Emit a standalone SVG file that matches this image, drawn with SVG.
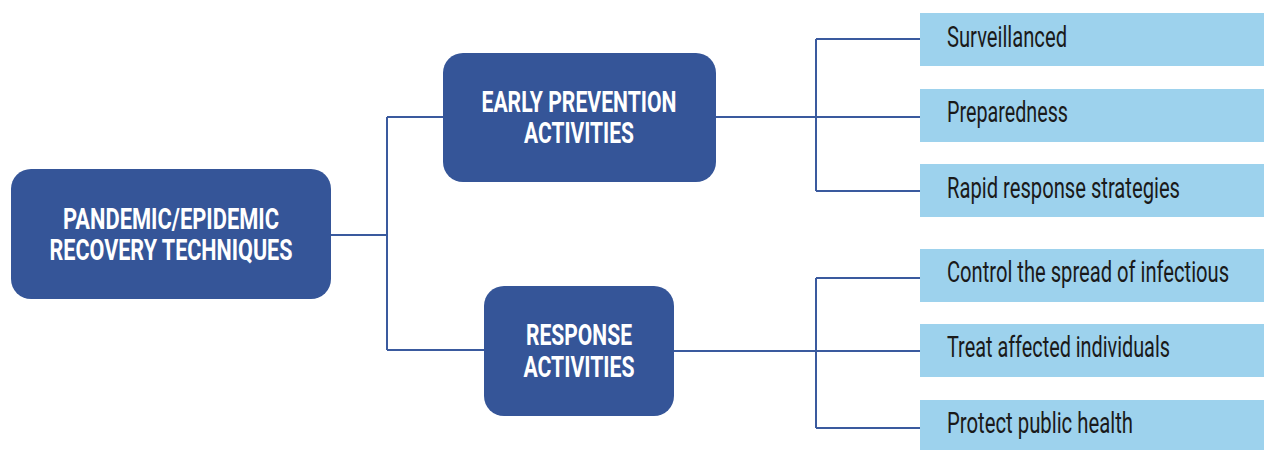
<svg xmlns="http://www.w3.org/2000/svg" width="1264" height="450" viewBox="0 0 1264 450">
  <style>
    .hub { fill: #355598; }
    .hub-label { font-family: Roboto, "Liberation Sans", sans-serif; font-weight: 700; font-size: 29px; fill: #ffffff; text-anchor: middle; }
    .leaf { fill: #9dd2ed; }
    .leaf-label { font-family: Roboto, "Liberation Sans", sans-serif; font-weight: 400; font-size: 29px; fill: #1a1a1a; }
    .wire { fill: none; stroke: #3a5a9e; stroke-width: 2; }
  </style>
  <rect width="1264" height="450" fill="#ffffff"/>

  <!-- tree connectors -->
  <g id="connectors" class="wire">
    <path d="M331 235 H387 M387 117 V350 M387 117 H443 M387 350 H484"/>
    <path d="M716 117 H920 M816 39 V191 M816 39 H920 M816 191 H920"/>
    <path d="M674 351 H920 M816 278 V428 M816 278 H920 M816 428 H920"/>
  </g>

  <!-- root (labels drawn condensed) -->
  <g id="node-root">
    <rect class="hub" x="11" y="169" width="320" height="130" rx="20"/>
    <text class="hub-label" transform="translate(171 229) scale(0.7 1)" textLength="308.6" lengthAdjust="spacingAndGlyphs">PANDEMIC/EPIDEMIC</text>
    <text class="hub-label" transform="translate(171 260) scale(0.7 1)" textLength="347.1" lengthAdjust="spacingAndGlyphs">RECOVERY TECHNIQUES</text>
  </g>

  <!-- branches -->
  <g id="node-early">
    <rect class="hub" x="443" y="53" width="273" height="129" rx="20"/>
    <text class="hub-label" transform="translate(579 112) scale(0.7 1)" textLength="278.6" lengthAdjust="spacingAndGlyphs">EARLY PREVENTION</text>
    <text class="hub-label" transform="translate(579 143) scale(0.7 1)" textLength="157.1" lengthAdjust="spacingAndGlyphs">ACTIVITIES</text>
  </g>
  <g id="node-response">
    <rect class="hub" x="484" y="286" width="190" height="130" rx="20"/>
    <text class="hub-label" transform="translate(579 345) scale(0.7 1)" textLength="151.4" lengthAdjust="spacingAndGlyphs">RESPONSE</text>
    <text class="hub-label" transform="translate(579 377) scale(0.7 1)" textLength="158.6" lengthAdjust="spacingAndGlyphs">ACTIVITIES</text>
  </g>

  <!-- leaves -->
  <g id="node-surveillance">
    <rect class="leaf" x="920" y="13" width="344" height="53"/>
    <text class="leaf-label" transform="translate(947 47) scale(0.72 1)" textLength="166.7" lengthAdjust="spacingAndGlyphs">Surveillanced</text>
  </g>
  <g id="node-preparedness">
    <rect class="leaf" x="920" y="89" width="344" height="53"/>
    <text class="leaf-label" transform="translate(947 122) scale(0.72 1)" textLength="168.1" lengthAdjust="spacingAndGlyphs">Preparedness</text>
  </g>
  <g id="node-rapid">
    <rect class="leaf" x="920" y="164" width="344" height="53"/>
    <text class="leaf-label" transform="translate(947 198) scale(0.72 1)" textLength="323.6" lengthAdjust="spacingAndGlyphs">Rapid response strategies</text>
  </g>
  <g id="node-control">
    <rect class="leaf" x="920" y="249" width="344" height="53"/>
    <text class="leaf-label" transform="translate(947 282) scale(0.72 1)" textLength="391.7" lengthAdjust="spacingAndGlyphs">Control the spread of infectious</text>
  </g>
  <g id="node-treat">
    <rect class="leaf" x="920" y="324" width="344" height="53"/>
    <text class="leaf-label" transform="translate(947 357) scale(0.72 1)" textLength="309.7" lengthAdjust="spacingAndGlyphs">Treat affected individuals</text>
  </g>
  <g id="node-protect">
    <rect class="leaf" x="920" y="400" width="344" height="53"/>
    <text class="leaf-label" transform="translate(947 433) scale(0.72 1)" textLength="258.3" lengthAdjust="spacingAndGlyphs">Protect public health</text>
  </g>
</svg>
